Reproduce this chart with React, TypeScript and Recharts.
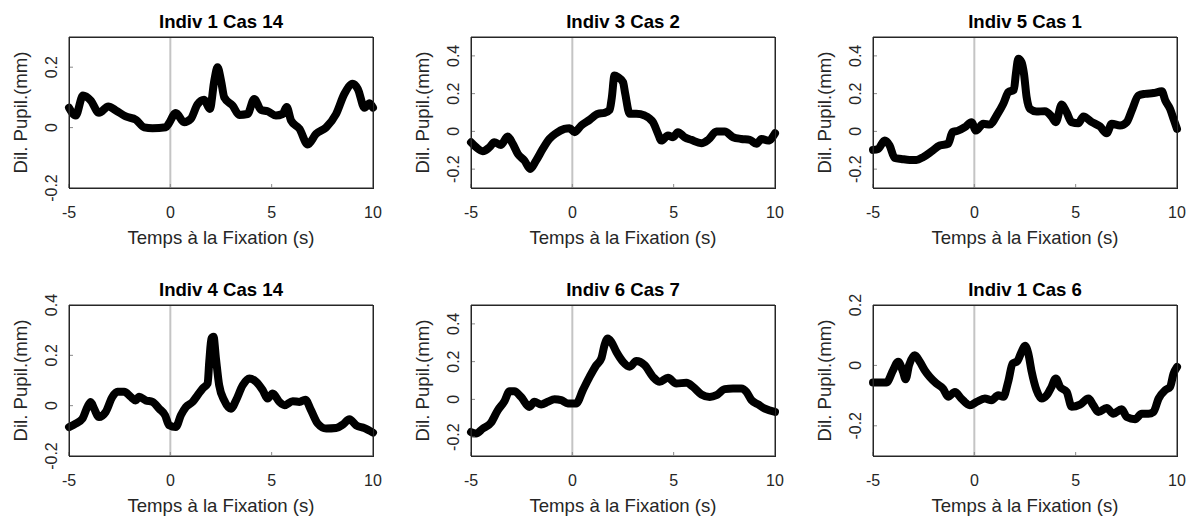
import React from 'react';
import { LineChart, Line, XAxis, YAxis, ReferenceLine } from 'recharts';

// [time (s), pupil dilation (mm)]
const indiv1Cas14 = [
  [-5, 0.066], [-4.67, 0.04], [-4.31, 0.106], [-3.93, 0.09], [-3.52, 0.049], [-3.06, 0.07],
  [-2.69, 0.057], [-2.2, 0.037], [-1.7, 0.026], [-1.29, 0.001], [-0.88, -0.002], [-0.22, 0.001],
  [-0.09, 0.012], [0.27, 0.048], [0.68, 0.018], [1.01, 0.029], [1.34, 0.077], [1.67, 0.092],
  [1.95, 0.062], [2.17, 0.156], [2.33, 0.2], [2.5, 0.156], [2.66, 0.1], [3.07, 0.073],
  [3.4, 0.042], [3.81, 0.045], [4.14, 0.095], [4.47, 0.059], [4.8, 0.054], [5.21, 0.04],
  [5.54, 0.045], [5.74, 0.068], [5.96, 0.023], [6.37, -0.004], [6.78, -0.056], [7.19, -0.021],
  [7.69, 0.001], [8.18, 0.045], [8.59, 0.112], [9.0, 0.145], [9.25, 0.128], [9.58, 0.066],
  [9.83, 0.081], [10, 0.066],
];

const indiv3Cas2 = [
  [-5, -0.058], [-4.75, -0.084], [-4.42, -0.105], [-4.09, -0.084], [-3.85, -0.058], [-3.52, -0.072],
  [-3.19, -0.027], [-2.94, -0.066], [-2.69, -0.119], [-2.36, -0.155], [-2.08, -0.199], [-1.79, -0.155],
  [-1.46, -0.093], [-1.13, -0.04], [-0.8, -0.01], [-0.39, 0.013], [-0.14, 0.017], [0.11, -0.004],
  [0.44, 0.031], [0.85, 0.061], [1.26, 0.093], [1.59, 0.098], [1.84, 0.114], [1.95, 0.181],
  [2.08, 0.296], [2.25, 0.288], [2.5, 0.261], [2.61, 0.199], [2.83, 0.093], [3.16, 0.093],
  [3.57, 0.084], [3.98, 0.049], [4.23, -0.013], [4.39, -0.049], [4.72, -0.022], [4.97, -0.031],
  [5.21, -0.004], [5.54, -0.031], [5.87, -0.045], [6.37, -0.063], [6.7, -0.045], [7.11, -0.001],
  [7.52, -0.001], [7.93, -0.031], [8.34, -0.04], [8.76, -0.045], [9.09, -0.066], [9.33, -0.04],
  [9.66, -0.049], [10, -0.01],
];

const indiv5Cas1 = [
  [-5, -0.098], [-4.75, -0.093], [-4.42, -0.049], [-4.18, -0.075], [-3.93, -0.141], [-3.6, -0.146],
  [-3.19, -0.151], [-2.86, -0.151], [-2.53, -0.137], [-2.12, -0.107], [-1.71, -0.075], [-1.29, -0.066],
  [-1.08, -0.004], [-0.8, 0.004], [-0.47, 0.022], [-0.14, 0.049], [0.08, 0.004], [0.44, 0.04],
  [0.77, 0.036], [1.1, 0.084], [1.43, 0.146], [1.68, 0.208], [1.95, 0.22], [2.05, 0.305],
  [2.17, 0.385], [2.33, 0.367], [2.45, 0.305], [2.58, 0.181], [2.74, 0.119], [3.07, 0.105],
  [3.48, 0.107], [3.81, 0.079], [4.02, 0.049], [4.31, 0.142], [4.55, 0.102], [4.8, 0.049],
  [5.13, 0.043], [5.38, 0.079], [5.8, 0.049], [6.2, 0.026], [6.53, -0.01], [6.78, 0.04],
  [7.19, 0.031], [7.52, 0.049], [7.77, 0.111], [8.1, 0.19], [8.43, 0.199], [8.84, 0.203],
  [9.25, 0.212], [9.42, 0.164], [9.66, 0.119], [9.83, 0.066], [10, 0.013],
];

const indiv4Cas14 = [
  [-5, -0.085], [-4.67, -0.071], [-4.34, -0.052], [-4.09, -0.005], [-3.93, 0.015], [-3.76, -0.012],
  [-3.52, -0.045], [-3.19, -0.025], [-2.86, 0.035], [-2.61, 0.055], [-2.28, 0.055], [-1.95, 0.035],
  [-1.71, 0.021], [-1.54, 0.035], [-1.21, 0.021], [-0.88, 0.015], [-0.55, -0.012], [-0.26, -0.038],
  [-0.06, -0.078], [0.27, -0.085], [0.52, -0.038], [0.77, -0.005], [1.1, 0.015], [1.34, 0.041],
  [1.59, 0.068], [1.84, 0.088], [1.92, 0.174], [2.03, 0.267], [2.13, 0.274], [2.25, 0.188],
  [2.41, 0.081], [2.66, 0.021], [2.99, -0.012], [3.24, 0.021], [3.57, 0.081], [3.9, 0.108],
  [4.23, 0.095], [4.56, 0.061], [4.8, 0.028], [5.05, 0.048], [5.38, 0.015], [5.63, 0.002],
  [6.04, 0.018], [6.37, 0.015], [6.66, 0.024], [6.94, -0.018], [7.27, -0.071], [7.69, -0.091],
  [8.18, -0.089], [8.51, -0.075], [8.84, -0.054], [9.17, -0.078], [9.58, -0.089], [10, -0.107],
];

const indiv6Cas7 = [
  [-5, -0.173], [-4.75, -0.181], [-4.42, -0.155], [-4.01, -0.123], [-3.68, -0.058], [-3.35, -0.01],
  [-3.1, 0.043], [-2.86, 0.043], [-2.53, 0.013], [-2.12, -0.04], [-1.87, -0.013], [-1.54, -0.027],
  [-1.21, -0.013], [-0.88, 0.001], [-0.55, -0.004], [-0.22, -0.022], [0.19, -0.022], [0.52, 0.049],
  [0.85, 0.119], [1.18, 0.181], [1.43, 0.217], [1.59, 0.288], [1.75, 0.323], [1.92, 0.305],
  [2.17, 0.252], [2.5, 0.199], [2.83, 0.173], [3.16, 0.203], [3.57, 0.181], [3.98, 0.119],
  [4.31, 0.093], [4.72, 0.114], [5.13, 0.084], [5.63, 0.088], [5.96, 0.066], [6.37, 0.026],
  [6.78, 0.013], [7.11, 0.022], [7.52, 0.054], [7.93, 0.058], [8.34, 0.058], [8.59, 0.04],
  [8.84, -0.004], [9.17, -0.027], [9.5, -0.049], [10, -0.066],
];

const indiv1Cas6 = [
  [-5, -0.057], [-4.34, -0.057], [-4.01, -0.016], [-3.76, 0.012], [-3.52, -0.021], [-3.39, -0.046],
  [-3.22, 0.001], [-2.94, 0.034], [-2.69, 0.012], [-2.45, -0.016], [-2.2, -0.038], [-1.87, -0.06],
  [-1.54, -0.077], [-1.29, -0.104], [-0.96, -0.088], [-0.64, -0.11], [-0.22, -0.132], [0.11, -0.121],
  [0.52, -0.11], [0.85, -0.115], [1.18, -0.099], [1.43, -0.104], [1.67, -0.054], [1.89, 0.006],
  [2.12, 0.014], [2.33, 0.045], [2.5, 0.065], [2.66, 0.04], [2.83, -0.021], [3.07, -0.082],
  [3.32, -0.11], [3.57, -0.099], [3.81, -0.071], [4.02, -0.043], [4.23, -0.071], [4.56, -0.088],
  [4.8, -0.137], [5.21, -0.13], [5.63, -0.11], [5.87, -0.132], [6.12, -0.154], [6.53, -0.141],
  [6.86, -0.16], [7.27, -0.145], [7.52, -0.171], [7.93, -0.178], [8.26, -0.16], [8.59, -0.16],
  [8.84, -0.154], [9.09, -0.11], [9.42, -0.082], [9.66, -0.071], [9.83, -0.027], [10, -0.005],
];

const series = [indiv1Cas14, indiv3Cas2, indiv5Cas1, indiv4Cas14, indiv6Cas7, indiv1Cas6];
const titles = ['Indiv 1 Cas 14', 'Indiv 3 Cas 2', 'Indiv 5 Cas 1', 'Indiv 4 Cas 14', 'Indiv 6 Cas 7', 'Indiv 1 Cas 6'];
const xDomain = [-5, 10];
const xTicks = [-5, 0, 5, 10];
const yDomains = [[-0.2, 0.3], [-0.3, 0.5], [-0.3, 0.5], [-0.2, 0.4], [-0.3, 0.5], [-0.3, 0.2]];
const yTicks = [[-0.2, 0, 0.2], [-0.2, 0, 0.2, 0.4], [-0.2, 0, 0.2, 0.4], [-0.2, 0, 0.2, 0.4], [-0.2, 0, 0.2, 0.4], [-0.2, 0, 0.2]];
const xLabel = 'Temps à la Fixation (s)';
const yLabel = 'Dil. Pupil.(mm)';

// layout: plot box positions on the page
const plotLefts = [69, 471, 873];
const plotTops = [37, 305];
const PW = 304;
const PH = 151;
const ML = 70, MT = 40, MR = 20, MB = 70;
const FONT = '"Liberation Sans", Arial, Helvetica, sans-serif';
const INK = '#262626';

const YTick = (props: any) => {
  const { x, y, payload } = props;
  return (
    <text x={x} y={y} transform={`rotate(-90 ${x} ${y})`} textAnchor="middle"
      fontSize={16} fontFamily={FONT} fill={INK}>
      {payload.value}
    </text>
  );
};

function Panel({ idx }: { idx: number }) {
  const rows = series[idx].map(([t, v]) => ({ t, v }));
  const left = plotLefts[idx % 3];
  const top = plotTops[Math.floor(idx / 3)];
  const domain = yDomains[idx];
  return (
    <div style={{ position: 'absolute', left: left - ML, top: top - MT }}>
      <LineChart width={ML + PW + MR} height={MT + PH + MB} data={rows}
        margin={{ top: MT, left: ML - 40, right: MR, bottom: MB - 30 }}>
        <XAxis dataKey="t" type="number" domain={xDomain} ticks={xTicks} interval={0}
          height={30} tickSize={-4} tickMargin={23}
          axisLine={{ stroke: INK }} tickLine={{ stroke: '#8a8a8a' }}
          tick={{ fontSize: 16, fontFamily: FONT, fill: INK }} />
        <YAxis type="number" domain={domain} ticks={yTicks[idx]} interval={0}
          width={40} tickSize={-4} tickMargin={16}
          axisLine={{ stroke: INK }} tickLine={{ stroke: '#8a8a8a' }} tick={<YTick />} />
        {/* top and right edges of the box */}
        <ReferenceLine y={domain[1]} stroke={INK} strokeWidth={1} />
        <ReferenceLine x={xDomain[1]} stroke={INK} strokeWidth={1} />
        <ReferenceLine x={0} stroke="#c4c4c4" strokeWidth={2} />
        <Line dataKey="v" type="monotone" stroke="#000" strokeWidth={8}
          strokeLinejoin="round" strokeLinecap="round" dot={false} isAnimationActive={false} />
      </LineChart>
    </div>
  );
}

export default function App() {
  return (
    <div style={{ position: 'absolute', left: 0, top: 0, width: 1192, height: 520, background: '#fff', overflow: 'hidden' }}>
      {titles.map((_, i) => <Panel key={i} idx={i} />)}
      {/* axes frame as plain bordered boxes */}
      {titles.map((_, i) => (
        <div key={'f' + i} style={{
          position: 'absolute', left: plotLefts[i % 3], top: plotTops[Math.floor(i / 3)],
          width: PW + 1, height: PH + 1, boxSizing: 'border-box',
          border: `1px solid ${INK}`, pointerEvents: 'none',
        }} />
      ))}
      <svg width={1192} height={520} style={{ position: 'absolute', left: 0, top: 0, pointerEvents: 'none' }}>
        {titles.map((title, i) => {
          const left = plotLefts[i % 3];
          const top = plotTops[Math.floor(i / 3)];
          const cx = left + PW / 2;
          const cy = top + PH / 2;
          return (
            <g key={i} fontFamily={FONT}>
              <text x={cx} y={top - 9} textAnchor="middle" fontSize={18.6} fontWeight="bold" fill="#000">{title}</text>
              <text x={cx} y={top + PH + 56} textAnchor="middle" fontSize={18.6} fill={INK}>{xLabel}</text>
              <text x={left - 42} y={cy} transform={`rotate(-90 ${left - 42} ${cy})`} textAnchor="middle" fontSize={18.6} fill={INK}>{yLabel}</text>
            </g>
          );
        })}
      </svg>
    </div>
  );
}
